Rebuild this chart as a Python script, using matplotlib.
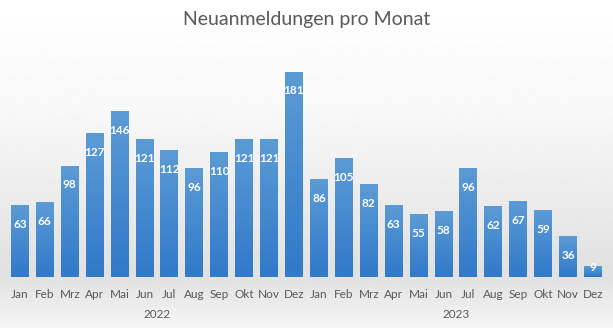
import numpy as np
import matplotlib
matplotlib.use("Agg")
import matplotlib.pyplot as plt
from matplotlib.colors import LinearSegmentedColormap

# Daten
monate = ["Jan", "Feb", "Mrz", "Apr", "Mai", "Jun", "Jul", "Aug", "Sep", "Okt", "Nov", "Dez"]
jahre = ["2022", "2023"]
werte_2022 = [63, 66, 98, 127, 146, 121, 112, 96, 110, 121, 121, 181]
werte_2023 = [86, 105, 82, 63, 55, 58, 96, 62, 67, 59, 36, 9]

werte = werte_2022 + werte_2023
labels = monate + monate
x = np.arange(len(werte))

plt.rcParams["font.family"] = ["Lato", "DejaVu Sans"]

fig = plt.figure(figsize=(6.13, 3.28), dpi=100)

# Hintergrund-Verlauf über die ganze Figur
bg = fig.add_axes([0, 0, 1, 1], zorder=-1)
stops = np.array([0.0, 0.35, 0.84, 1.0])
vals = np.array([1.0, 0.97, 0.88, 0.96])
yy = np.linspace(0, 1, 300)
grad = np.interp(yy, stops, vals)[:, None]
bg.imshow(grad, aspect="auto", cmap="gray", vmin=0, vmax=1, extent=[0, 1, 1, 0])
bg.axis("off")

ax = fig.add_axes([7.5 / 613, 1 - 276.5 / 328, 598 / 613, 226.5 / 328])
ax.patch.set_alpha(0)

cmap = LinearSegmentedColormap.from_list("blau", ["#3179c9", "#5b9bd5"])
breite = 0.72
for xi, v in zip(x, werte):
    ax.imshow(np.linspace(0, 1, 50)[:, None], cmap=cmap, aspect="auto", origin="lower",
              extent=[xi - breite / 2, xi + breite / 2, 0, v], zorder=2)
    off = -14 if v > 15 else -1
    ax.annotate(str(v), (xi, v), xytext=(0, off), textcoords="offset points",
                ha="center", va="center", color="white", fontsize=8.5,
                fontweight="bold", zorder=3)

ax.set_xlim(-0.5, len(werte) - 0.5)
ax.set_ylim(0, 200)
ax.set_xticks(x)
ax.set_xticklabels(labels, fontsize=8.5, color="#595959")
ax.tick_params(axis="x", length=0, pad=9)
ax.set_yticks([])
for s in ax.spines.values():
    s.set_visible(False)

for i, j in enumerate(jahre):
    fig.text((7.5 + 24.9 * (6 + 12 * i)) / 613, 1 - 314 / 328, j, ha="center", va="center",
             fontsize=8.5, color="#595959")

fig.text(0.5, 1 - 19 / 328, "Neuanmeldungen pro Monat", ha="center", va="center",
         fontsize=14, color="#595959")

fig.savefig("out.png", dpi=100)
